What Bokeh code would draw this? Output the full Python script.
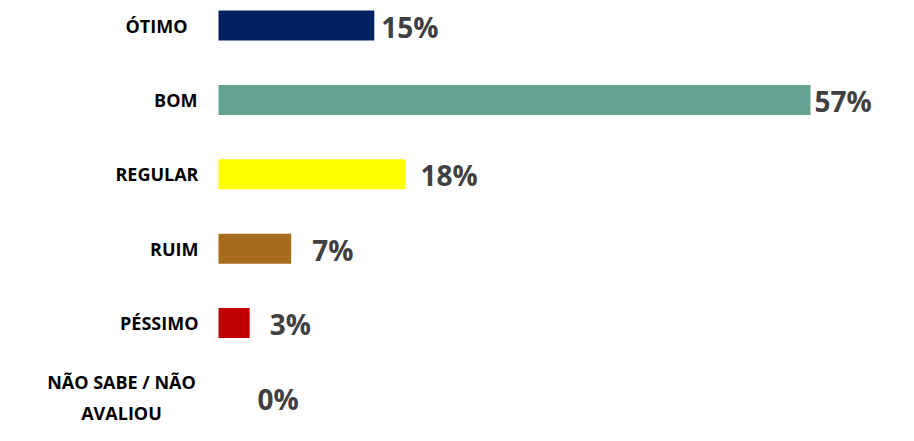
from bokeh.plotting import figure
from bokeh.models import ColumnDataSource, Range1d
from bokeh.core.properties import value
from bokeh.embed import file_html
from bokeh.resources import INLINE

categories = ["ÓTIMO", "BOM", "REGULAR", "RUIM", "PÉSSIMO", "NÃO SABE / NÃO\nAVALIOU"]
values = [15, 57, 18, 7, 3, 0]
value_labels = ["15%", "57%", "18%", "7%", "3%", "0%"]
colors = ["#002060", "#65A292", "#FFFF00", "#A66C1E", "#C00000", "#FFFFFF"]

# styling: gaps (px) between bar end and value label, category label alignment
label_gap = [7, 4, 15, 21, 20, 39]
cat_align = ["right", "right", "right", "right", "right", "center"]
cat_xoff = [-31, -21, -20, -20, -20, -97]

W, H = 906, 433
px_per_unit = 10.386
zero_px = 218
row_px = 74.4
first_center = 25

ypos = list(range(len(categories)))
src = ColumnDataSource(dict(
    y=ypos, v=values, color=colors, cat=categories, lab=value_labels,
    gap=label_gap, calign=cat_align, cxoff=cat_xoff,
    zero=[0] * len(values),
))

x_range = Range1d(-zero_px / px_per_unit, (W - zero_px) / px_per_unit)
y_range = Range1d((H - first_center) / row_px, -first_center / row_px)

p = figure(width=W, height=H, x_range=x_range, y_range=y_range,
           output_backend="svg", toolbar_location=None, min_border=0)
p.axis.visible = False
p.grid.visible = False
p.outline_line_color = None

p.hbar(y="y", left=0, right="v", height=30 / row_px, fill_color="color",
       line_color=None, source=src)

p.text(x="v", y="y", text="lab", x_offset="gap", y_offset=1, source=src,
       text_align="left", text_baseline="middle",
       text_font=value("Open Sans"), text_font_style="bold",
       text_font_size="28px", text_color="#404040")

p.text(x="zero", y="y", text="cat", x_offset="cxoff", text_align="calign", source=src,
       text_baseline="middle", text_font=value("Open Sans"), text_font_style="bold",
       text_font_size="18px", text_color="#000000", text_line_height=1.3)

open("out.html", "w").write(file_html(p, INLINE))
